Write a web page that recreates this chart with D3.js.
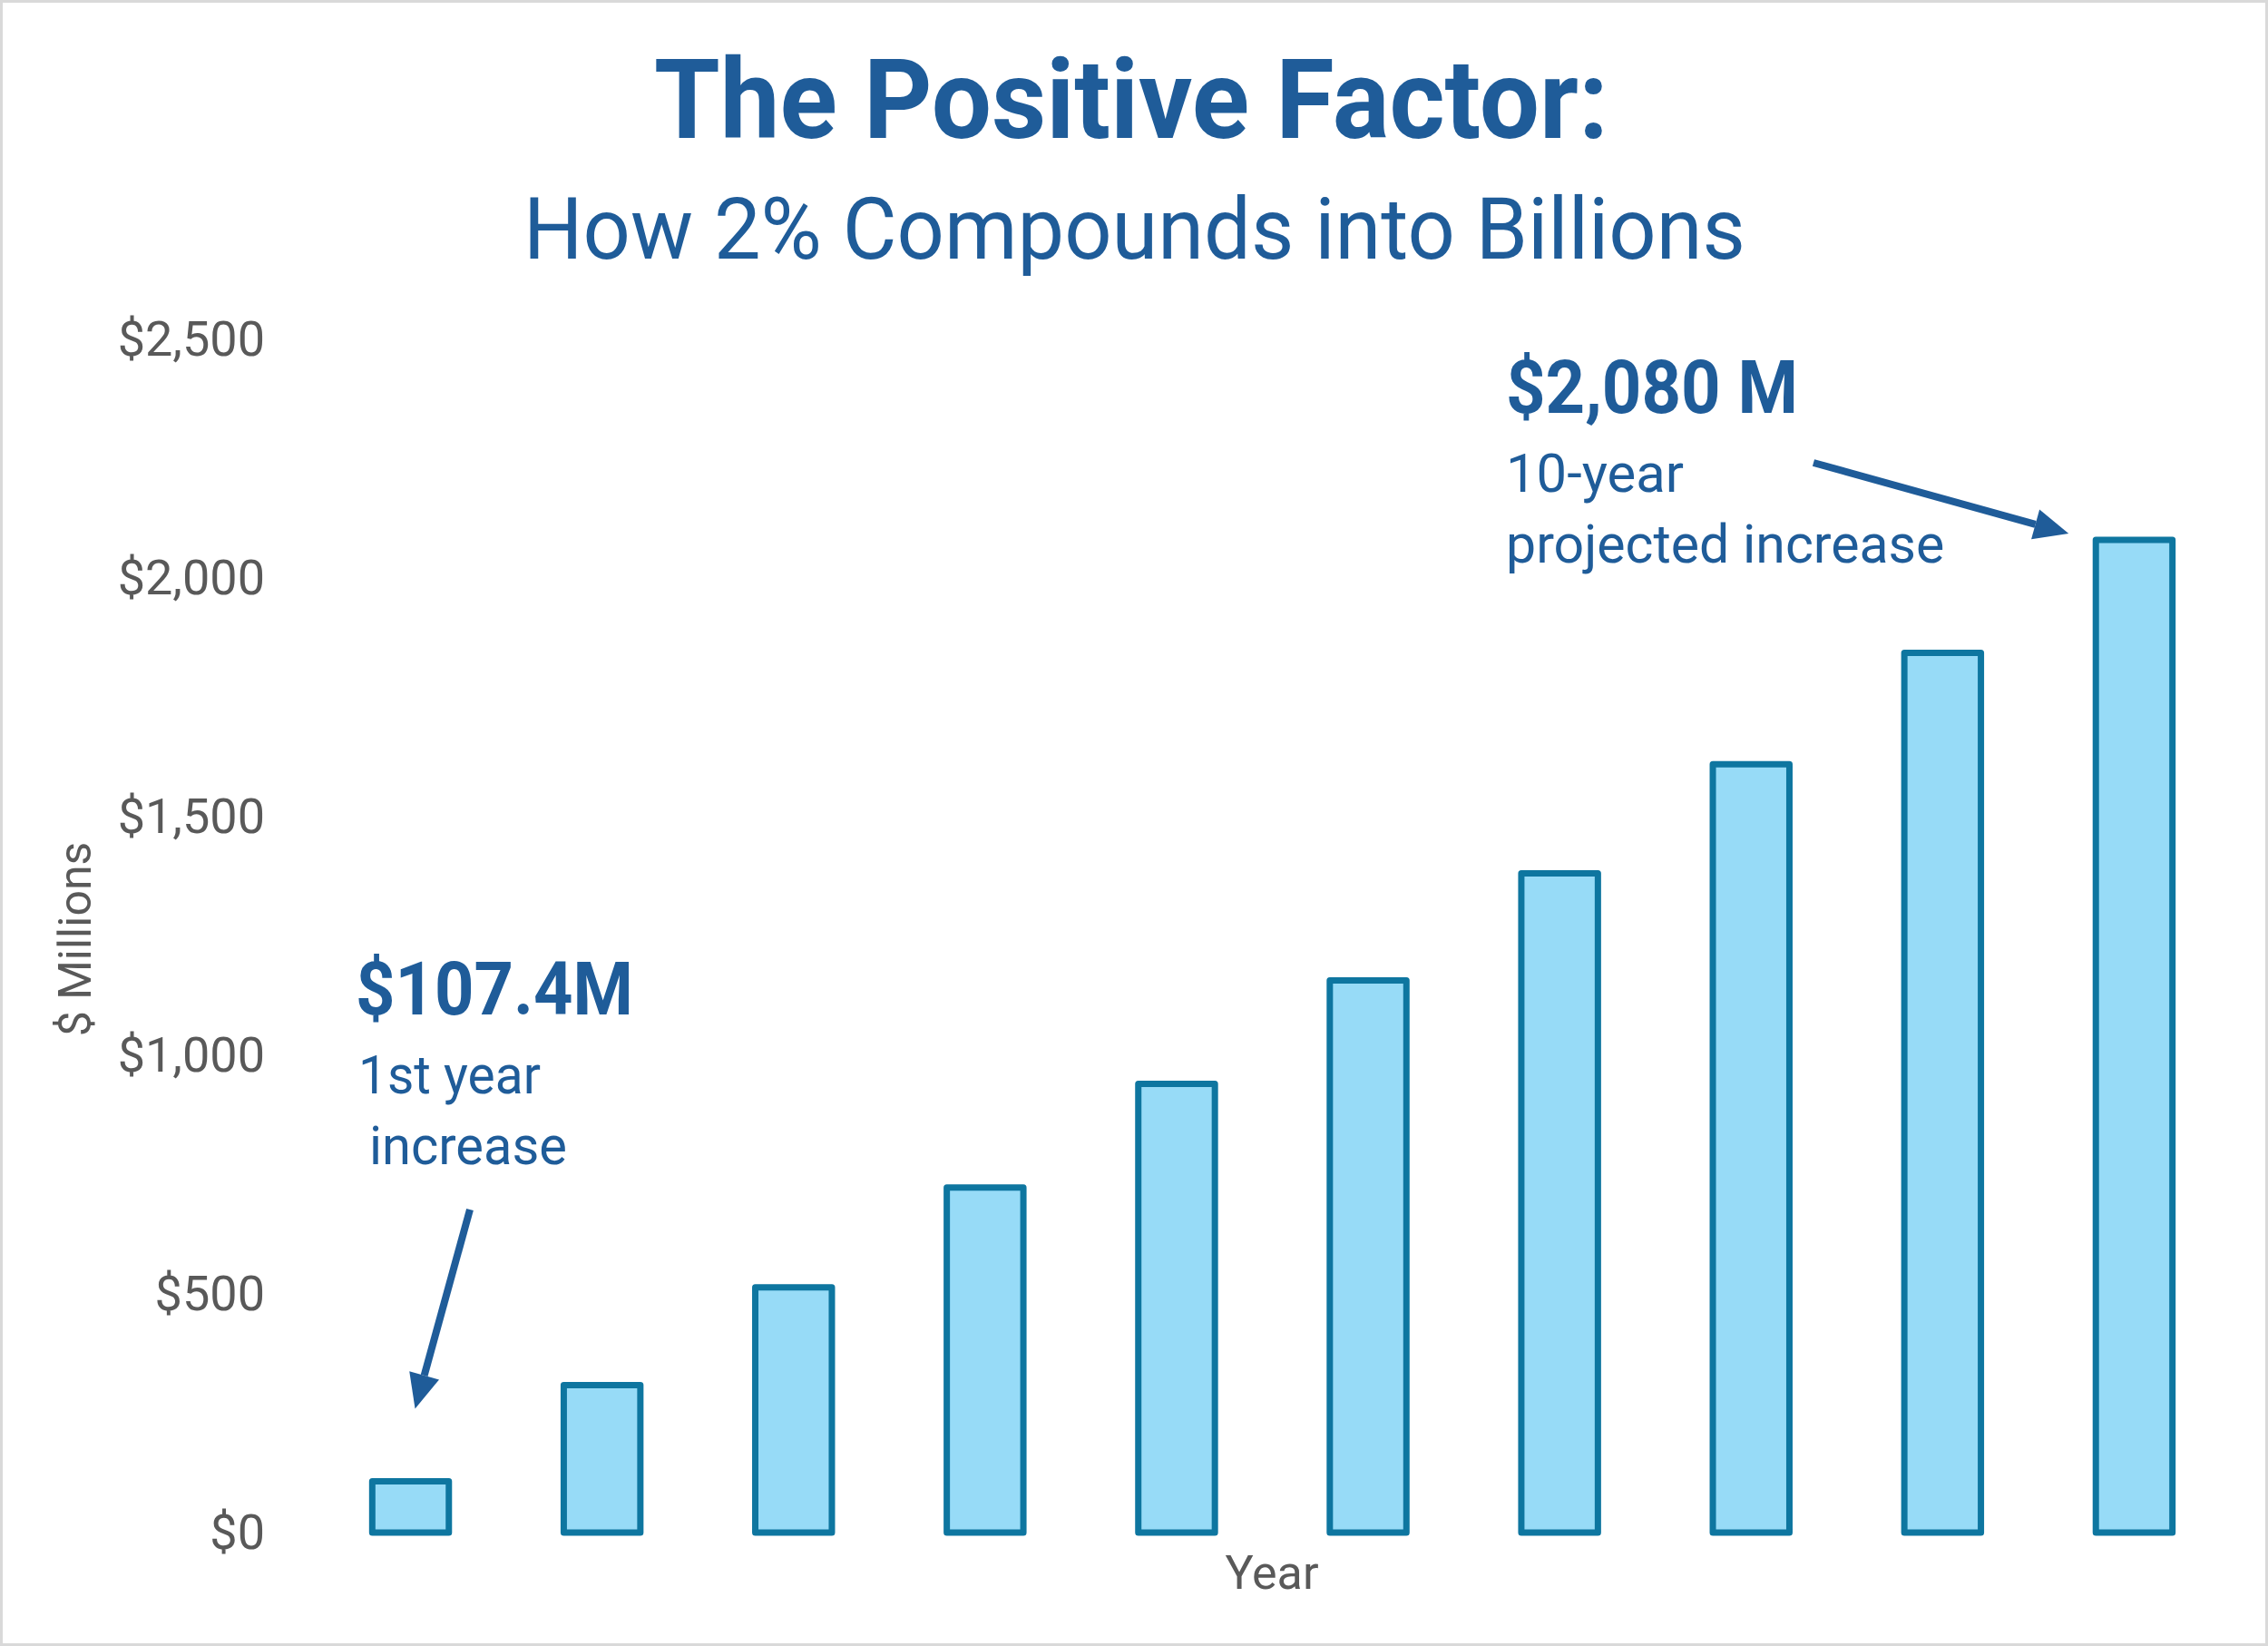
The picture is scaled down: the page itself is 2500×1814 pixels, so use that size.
<!DOCTYPE html>
<html>
<head>
<meta charset="utf-8">
<script src="https://cdn.jsdelivr.net/npm/d3@7"></script>
<style>
  body { margin: 0; background: #fff; }
  svg { display: block; }
</style>
</head>
<body>
<div class="canvas"></div>
<script>
// data ($ millions, cumulative increase per year)
const years = ['1', '2', '3', '4', '5', '6', '7', '8', '9', '10'];
const values = [107.4, 309, 514, 723, 940, 1157, 1381, 1610, 1843, 2080];
const yTicks = [0, 500, 1000, 1500, 2000, 2500];

const W = 2500, H = 1814;
const blue = '#1f5c99';
const grey = '#595959';
const font = 'Roboto, "Liberation Sans", Arial, sans-serif';

const svg = d3.select('.canvas')
  .append('svg')
    .attr('width', W)
    .attr('height', H);

svg.append('rect')
  .attr('x', 1.5).attr('y', 1.5)
  .attr('width', W - 3).attr('height', H - 3)
  .attr('fill', '#fff')
  .attr('stroke', '#d9d9d9')
  .attr('stroke-width', 3);

// scales
const x = d3.scaleBand()
  .domain(years)
  .range([347, 2458])
  .paddingInner(0.6)
  .paddingOuter(0.3);

const y = d3.scaleLinear()
  .domain([0, 2500])
  .range([1689, 374]);

// squeeze or stretch a text to the width it has in the picture
function fit(sel, w) {
  const len = sel.node().getComputedTextLength();
  if (Math.abs(len - w) > 2) {
    sel.attr('textLength', w).attr('lengthAdjust', 'spacingAndGlyphs');
  }
  return sel;
}

// titles
fit(svg.append('text')
  .attr('x', 721).attr('y', 152)
  .attr('font-family', font).attr('font-weight', 700)
  .attr('font-size', 122).attr('fill', blue)
  .text('The Positive Factor:'), 1052);

fit(svg.append('text')
  .attr('x', 577).attr('y', 285)
  .attr('font-family', font).attr('font-weight', 400)
  .attr('font-size', 94).attr('fill', blue)
  .text('How 2% Compounds into Billions'), 1347);

// y axis
const yAxis = svg.append('g')
  .attr('transform', 'translate(300,0)')
  .call(d3.axisLeft(y)
    .tickValues(yTicks)
    .tickSize(0)
    .tickPadding(8)
    .tickFormat(d => '$' + d3.format(',')(d)));
yAxis.select('.domain').remove();
yAxis.selectAll('text')
  .attr('font-family', font)
  .attr('font-size', 54)
  .attr('fill', grey);

svg.append('text')
  .attr('transform', 'translate(100,1035) rotate(-90)')
  .attr('text-anchor', 'middle')
  .attr('font-family', font).attr('font-size', 50)
  .attr('fill', grey)
  .text('$ Millions');

svg.append('text')
  .attr('x', 1402).attr('y', 1751)
  .attr('text-anchor', 'middle')
  .attr('font-family', font).attr('font-size', 52)
  .attr('fill', grey)
  .text('Year');

// bars
svg.selectAll('rect.bar')
  .data(values)
  .enter()
  .append('rect')
    .attr('class', 'bar')
    .attr('x', (d, i) => x(years[i]))
    .attr('y', d => y(d))
    .attr('width', x.bandwidth())
    .attr('height', d => y(0) - y(d))
    .attr('fill', '#97dbf7')
    .attr('stroke', '#0e76a0')
    .attr('stroke-width', 7)
    .attr('stroke-linejoin', 'round');

// annotations
function label(tx, ty, str, size, weight, w) {
  const t = svg.append('text')
    .attr('x', tx).attr('y', ty)
    .attr('font-family', font).attr('font-weight', weight)
    .attr('font-size', size).attr('fill', blue)
    .text(str);
  return fit(t, w);
}

label(392, 1118, '$107.4M', 82, 700, 306);
label(395, 1205, '1st year', 59, 400, 201);
label(407, 1283, 'increase', 59, 400, 218);

label(1660, 455, '$2,080 M', 82, 700, 322);
label(1660, 542, '10-year', 59, 400, 196);
label(1660, 620, 'projected increase', 59, 400, 482);

function arrow(x1, y1, x2, y2) {
  const ang = Math.atan2(y2 - y1, x2 - x1);
  const hl = 38, hw = 17;
  const bx = x2 - hl * Math.cos(ang), by = y2 - hl * Math.sin(ang);
  svg.append('line')
    .attr('x1', x1).attr('y1', y1)
    .attr('x2', bx).attr('y2', by)
    .attr('stroke', blue).attr('stroke-width', 8);
  const px = -Math.sin(ang) * hw, py = Math.cos(ang) * hw;
  svg.append('path')
    .attr('d', `M${x2},${y2}L${bx + px},${by + py}L${bx - px},${by - py}Z`)
    .attr('fill', blue);
}

// first-year arrow points down at bar 1, last one at bar 10
const b1 = x(years[0]) + x.bandwidth() / 2;
arrow(518, 1333, b1 + 5, y(values[0]) - 80);
arrow(1999, 510, x(years[9]) - 30, y(values[9]) - 7);
</script>
</body>
</html>
